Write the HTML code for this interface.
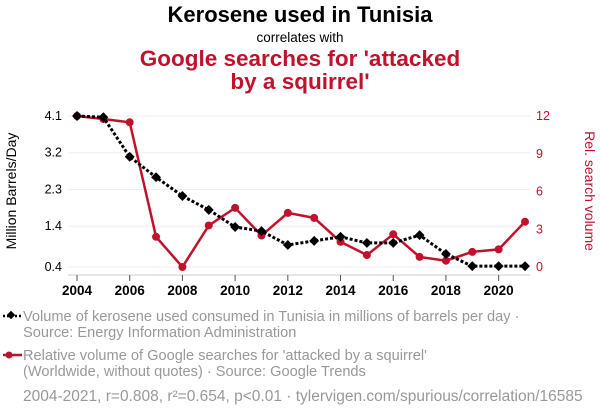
<!DOCTYPE html>
<html><head><meta charset="utf-8"><style>
body{margin:0;width:600px;height:414px;background:#fff;font-family:"Liberation Sans",sans-serif;overflow:hidden}
</style></head><body>
<svg width="600" height="414" font-family="Liberation Sans, sans-serif">
<text x="300" y="22" text-anchor="middle" font-size="22" font-weight="bold">Kerosene used in Tunisia</text>
<text x="300" y="42" text-anchor="middle" font-size="13.5">correlates with</text>
<text x="300" y="66" text-anchor="middle" font-size="22.5" font-weight="bold" fill="#c0122c">Google searches for 'attacked</text>
<text x="300" y="89" text-anchor="middle" font-size="22.5" font-weight="bold" fill="#c0122c">by a squirrel'</text>
<g id="grid"></g>
<text transform="translate(16,191) rotate(-90)" text-anchor="middle" font-size="14">Million Barrels/Day</text>
<text transform="translate(585,191) rotate(90)" text-anchor="middle" font-size="14" fill="#c0122c">Rel. search volume</text>
<g id="marks"></g>
<g>
<line x1="3" y1="316" x2="22" y2="316" stroke="#000" stroke-width="2.5" stroke-dasharray="2,2"/>
<rect x="8" y="312" width="6" height="6" transform="rotate(45 11 315)" fill="#000"/>
<text x="23" y="321" font-size="14.6" fill="#999">Volume of kerosene used consumed in Tunisia in millions of barrels per day ·</text>
<text x="23" y="337" font-size="14.6" fill="#999">Source: Energy Information Administration</text>
</g>
<g>
<line x1="3" y1="355" x2="22" y2="355" stroke="#c0122c" stroke-width="2.5"/>
<circle cx="9" cy="355" r="3.5" fill="#c0122c"/>
<text x="23" y="360" font-size="14.6" fill="#999">Relative volume of Google searches for 'attacked by a squirrel'</text>
<text x="23" y="376" font-size="14.6" fill="#999">(Worldwide, without quotes) · Source: Google Trends</text>
</g>
<text x="23" y="401" font-size="15.5" fill="#999">2004-2021, r=0.808, r²=0.654, p&lt;0.01 · tylervigen.com/spurious/correlation/16585</text>
</svg>
<script>
const years=[2004,2005,2006,2007,2008,2009,2010,2011,2012,2013,2014,2015,2016,2017,2018,2019,2020,2021];
const kerosene=[4.1,4.07,3.1,2.6,2.14,1.8,1.38,1.28,0.94,1.04,1.14,0.99,0.99,1.18,0.72,0.42,0.42,0.42];
const searches=[12,11.76,11.5,2.4,0,3.3,4.7,2.5,4.3,3.9,2.0,0.95,2.6,0.8,0.5,1.2,1.4,3.6];
const leftTicks=[0.4,1.4,2.3,3.2,4.1];
const rightTicks=[0,3,6,9,12];
const xTicks=[2004,2006,2008,2010,2012,2014,2016,2018,2020];
const NS="http://www.w3.org/2000/svg";
const x=v=>77+(v-2004)*(525-77)/17;
const yl=v=>267-(v-0.4)/3.7*151;
const yr=v=>267-v/12*151;
function mk(tag,attrs,parent){const e=document.createElementNS(NS,tag);for(const k in attrs)e.setAttribute(k,attrs[k]);parent.appendChild(e);return e;}
const grid=document.getElementById('grid'),marks=document.getElementById('marks');
leftTicks.forEach((t,i)=>{
 const g=mk('line',{x1:68,x2:530,y1:yl(t),y2:yl(t),stroke:'#eee','stroke-width':1},grid);
 
 
 const tx=mk('text',{x:62,y:yl(t)+4,'text-anchor':'end','font-size':12.5},grid);tx.textContent=t.toFixed(1);
 
 
});
rightTicks.forEach(t=>{
 const tx=mk('text',{x:536,y:yr(t)+4,'font-size':12.5,fill:'#c0122c'},grid);tx.textContent=t;
 
 
});
mk('line',{x1:68,x2:530,y1:275,y2:275,stroke:'#ccc'},grid);
xTicks.forEach(t=>{
 mk('line',{x1:x(t),x2:x(t),y1:275,y2:281,stroke:'#555'},grid);
 const tx=mk('text',{x:x(t),y:295,'text-anchor':'middle','font-size':13.5,'font-weight':'bold'},grid);tx.textContent=t;
 
 
});
const rl=mk('polyline',{points:years.map((yv,i)=>x(yv)+','+yr(searches[i])).join(' '),fill:'none',stroke:'#c0122c','stroke-width':2.5},marks);


years.forEach((yv,i)=>{const c=mk('circle',{cx:x(yv),cy:yr(searches[i]),r:4,fill:'#c0122c'},marks);
 
 });
const kl=mk('polyline',{points:years.map((yv,i)=>x(yv)+','+yl(kerosene[i])).join(' '),fill:'none',stroke:'#000','stroke-width':3,'stroke-dasharray':'3,2'},marks);


years.forEach((yv,i)=>{const cx=x(yv),cy=yl(kerosene[i]);
 const d=mk('rect',{x:cx-3.5,y:cy-3.5,width:7,height:7,fill:'#000',transform:`rotate(45 ${cx} ${cy})`},marks);
 
 });
</script>
</body></html>
